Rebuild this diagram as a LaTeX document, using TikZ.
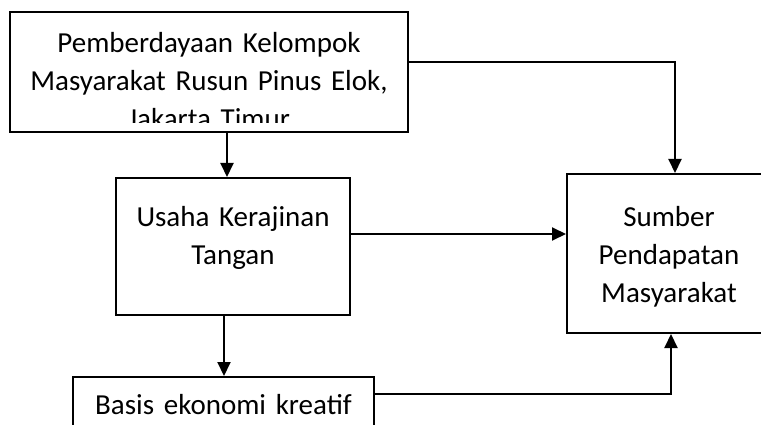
\documentclass[tikz,border=0pt]{standalone}
\usepackage{fontspec}
\setmainfont{Carlito}
\usetikzlibrary{positioning, arrows.meta, calc}
\tikzset{
  caja/.style={rectangle, draw=black, line width=2pt, inner sep=0pt, align=center, font=\fontsize{29}{38.5}\selectfont},
  arrow/.style={line width=2pt, -{Triangle[length=14pt, width=13pt]}}
}
\begin{document}
\begin{tikzpicture}[x=1pt, y=-1pt]
  \clip (0,0) rectangle (761,425);

  % Definición de los nodos
  \node (pemberdayaan) [caja, anchor=north west, minimum width=398, minimum height=120,
    path picture={
      \clip ([yshift=9pt]path picture bounding box.south west) rectangle (path picture bounding box.north east);
      \node [anchor=base, draw=none, text width=398, align=center, inner sep=0pt, font=\fontsize{29}{38}\selectfont]
        at ([yshift=-41pt]path picture bounding box.north) {Pemberdayaan Kelompok\\ Masyarakat Rusun Pinus Elok,\\ Jakarta Timur};}] at (9,11) {};
  \node (usaha) [caja, anchor=north west, text width=234, text height=48, text depth=89] at (115,177) {Usaha Kerajinan\\ Tangan};
  \node (sumber) [caja, anchor=north west, text width=204, text height=52, text depth=107] at (566,173) {Sumber\\ Pendapatan\\ Masyarakat};
  \node (basis) [caja, anchor=north west, text width=301, text height=37, text depth=63] at (72,376) {Basis ekonomi kreatif};

  % Conexiones
  \draw [arrow] ([xshift=-6pt]usaha.north |- pemberdayaan.south) -- ([xshift=-6pt]usaha.north);
  \draw [arrow] ([yshift=10pt]pemberdayaan.east) -| ([xshift=6pt]sumber.north);
  \draw [arrow] ([yshift=12.5pt]usaha.east) -- ([yshift=12.5pt]usaha.east -| sumber.west);
  \draw [arrow] ([xshift=-9pt]usaha.south) -- ([xshift=-9pt]usaha.south |- basis.north);
  \draw [arrow] ([yshift=-18pt]basis.north east) -| ([xshift=2pt]sumber.south);
\end{tikzpicture}
\end{document}
